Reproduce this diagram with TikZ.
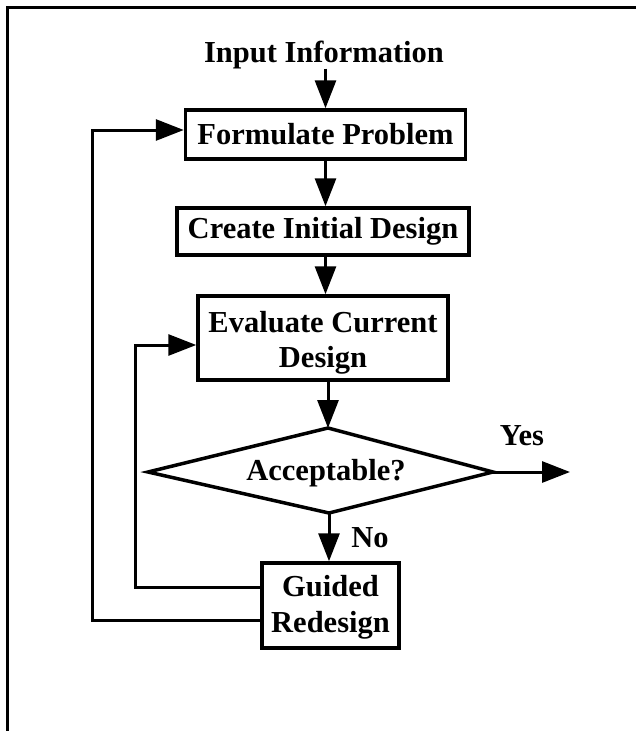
\documentclass[tikz,border=0pt]{standalone}
\usepackage{fontspec}
\setmainfont{Liberation Serif}
\usetikzlibrary{arrows.meta}
\begin{document}
\begin{tikzpicture}[x=1pt,y=-1pt,
  lbl/.style={font=\fontsize{30.5}{35.5}\selectfont\bfseries, align=center, inner sep=0pt},
  stepbox/.style={lbl, draw, line width=3.5pt, rectangle},
  conn/.style={line width=3pt, -{Triangle[length=28pt,width=21pt]}},
  frameline/.style={line width=3pt}
]
\useasboundingbox (0,0) rectangle (636,731);
\draw[frameline] (636,7) -- (7,7) -- (7,731);

\node[lbl, anchor=base] (input) at (324,62) {Input Information};
\node[stepbox, minimum width=280, minimum height=49] (form) at (325.5,134.5) {Formulate Problem};
\node[stepbox, minimum width=292, minimum height=47] (create) at (323,231.5) {Create Initial Design};
\node[stepbox, minimum width=250, minimum height=84] (eval) at (323,338) {\rule{0pt}{31pt}Evaluate Current\\Design};

\coordinate (dt) at (328,428);
\coordinate (dr) at (493,472);
\coordinate (db) at (329,513);
\coordinate (dl) at (148,472);
\draw[line width=3.5pt] (dt) -- (dr) -- (db) -- (dl) -- cycle;
\node[lbl, anchor=base] (acc) at (326,480) {Acceptable?};

\node[stepbox, minimum width=137, minimum height=85] (guided) at (330.5,605.5) {\rule{0pt}{25pt}Guided\\Redesign};
\node[lbl, anchor=base] (yes) at (522,445) {Yes};
\node[lbl, anchor=base] (no) at (370,547) {No};
\coordinate (yesend) at (570,472);

\draw[conn] (input.south -| form.north) -- (form.north);
\draw[conn] (form.south) -- (form.south |- create.north);
\draw[conn] (form.south |- create.south) -- (form.south |- eval.north);
\draw[conn] (eval.south -| dt) -- (dt);
\draw[conn] (db) -- (db |- guided.north);
\draw[conn] (dr) -- (yesend);
\draw[conn] ([yshift=18.5pt]guided.west) -- ++(-125,0) |- ([yshift=-7pt]eval.west);
\draw[conn] ([yshift=-14.5pt]guided.west) -- ++(-168,0) |- ([yshift=4.5pt]form.west);
\end{tikzpicture}
\end{document}
